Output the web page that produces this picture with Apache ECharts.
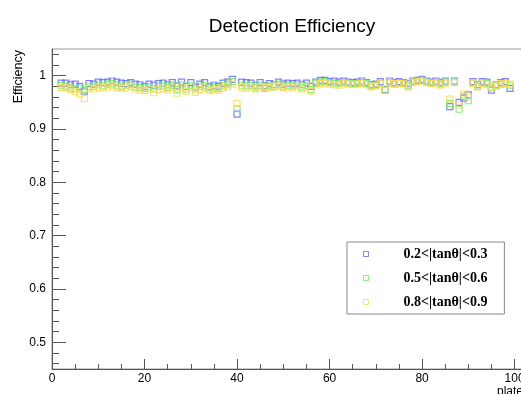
<!DOCTYPE html>
<html>
<head>
<meta charset="utf-8">
<script src="https://cdn.jsdelivr.net/npm/echarts@6/dist/echarts.min.js"></script>
<style>
  html, body { margin: 0; padding: 0; background: #fff; }
  #main { width: 521px; height: 394px; }
</style>
</head>
<body>
<div id="main"></div>
<script>
// plates 2..99
var plates = [];
for (var p = 2; p <= 99; p++) plates.push(p);

var eff02 = [
  .986, .986, .983, .984, .980, .971, .985, .984, .988, .987, .988, .990, .988, .986, .985, .987, .984, .983, .980,
  .984, .982, .985, .986, .983, .987, .981, .988, .980, .987, .979, .984, .987, .979, .982, .980, .986, .988, .993,
  .928, .988, .987, .986, .982, .987, .981, .985, .983, .988, .984, .986, .985, .986, .983, .986, .980, .988, .991,
  .991, .989, .990, .988, .990, .988, .987, .988, .990, .987, .983, .984, .989, .974, .990, .987, .989, .987, .985,
  .990, .991, .993, .990, .988, .990, .987, .990, .942, .990, .950, .958, .964, .989, .983, .989, .988, .973, .983,
  .987, .989, .976
];
var eff05 = [
  .982, .980, .977, .975, .976, .974, .979, .980, .983, .981, .984, .985, .982, .980, .982, .984, .979, .978, .976,
  .979, .975, .980, .981, .978, .982, .974, .983, .975, .982, .975, .980, .982, .975, .978, .976, .982, .984, .989,
  .938, .982, .981, .982, .978, .982, .976, .981, .979, .984, .980, .982, .981, .983, .978, .981, .974, .986, .988,
  .989, .987, .986, .985, .987, .986, .985, .985, .987, .985, .981, .982, .986, .973, .987, .984, .987, .986, .981,
  .988, .990, .991, .988, .986, .987, .984, .988, .948, .988, .937, .961, .953, .986, .980, .987, .985, .977, .981,
  .984, .986, .982
];
var eff08 = [
  .978, .977, .974, .970, .966, .957, .976, .975, .978, .977, .979, .981, .978, .976, .977, .980, .975, .973, .972,
  .975, .968, .974, .976, .973, .977, .967, .977, .971, .979, .969, .974, .977, .972, .974, .973, .977, .980, .984,
  .948, .978, .976, .979, .975, .979, .978, .977, .980, .981, .977, .979, .977, .980, .975, .979, .971, .983, .985,
  .986, .984, .983, .982, .986, .984, .983, .984, .985, .983, .979, .981, .985, .972, .986, .985, .985, .985, .979,
  .987, .989, .990, .987, .985, .986, .982, .986, .956, .987, .945, .966, .960, .985, .979, .986, .983, .979, .982,
  .985, .985, .984
];

var seriesNames = ['0.2<|tan\u03b8|<0.3', '0.5<|tan\u03b8|<0.6', '0.8<|tan\u03b8|<0.9'];
var seriesColors = ['#6464ff', '#64f064', '#ffda55'];
var seriesData = [eff02, eff05, eff08];

var yMajor = [0.5, 0.6, 0.7, 0.8, 0.9, 1.0];
var yMinor = [];
for (var i = 0; i < 30; i++) {
  var v = Math.round((0.46 + i * 0.02) * 100) / 100;
  if (Math.round(v * 100) % 10 !== 0) yMinor.push(v);
}

var chartDom = document.getElementById('main');
var myChart = echarts.init(chartDom, null, { renderer: 'canvas' });

var axisColor = '#555';
var fontSans = 'Liberation Sans, Arial, sans-serif';

var option = {
  animation: false,
  backgroundColor: '#fff',
  title: {
    text: 'Detection Efficiency',
    left: 287,
    top: 12,
    textAlign: 'center',
    textStyle: { fontFamily: fontSans, fontSize: 19, fontWeight: 'normal', color: '#000' }
  },
  grid: {
    left: 52, top: 49, right: -1, bottom: 25,
    outerBoundsMode: 'none',
    show: true, borderColor: '#999', borderWidth: 1
  },
  legend: {
    orient: 'vertical',
    left: 347,
    top: 242,
    padding: [5, 17, 5, 16],
    itemGap: 10,
    itemWidth: 5,
    itemHeight: 5,
    itemStyle: { borderWidth: 1 },
    borderColor: '#888',
    borderWidth: 1,
    backgroundColor: '#fff',
    textStyle: {
      fontFamily: 'Liberation Serif, Times New Roman, serif',
      fontWeight: 'bold', fontSize: 14, color: '#000',
      padding: [0, 0, 0, 30], lineHeight: 14
    },
    data: seriesNames
  },
  xAxis: {
    type: 'value',
    min: 0, max: 101.6, interval: 20,
    axisLine: { lineStyle: { color: axisColor } },
    axisTick: { inside: true, length: 10, lineStyle: { color: axisColor } },
    minorTick: { show: true, splitNumber: 4, length: 5, lineStyle: { color: axisColor } },
    splitLine: { show: false },
    axisLabel: {
      margin: 4, color: '#000', fontFamily: fontSans, fontSize: 12,
      hideOverlap: false,
      formatter: function (v) { return v % 20 === 0 ? String(v) : ''; }
    }
  },
  yAxis: [
    {
      type: 'value', min: 0.45, max: 1.05, position: 'left',
      axisLine: { show: true, lineStyle: { color: axisColor } },
      axisTick: { show: true, inside: true, length: 14, customValues: yMajor, lineStyle: { color: axisColor } },
      axisLabel: {
        margin: 6, color: '#000', fontFamily: fontSans, fontSize: 12, customValues: yMajor,
        formatter: function (v) { return v === 1 ? '1' : v.toFixed(1); }
      },
      splitLine: { show: false }
    },
    {
      type: 'value', min: 0.45, max: 1.05, position: 'left', offset: 0,
      axisLine: { show: false },
      axisTick: { show: true, inside: true, length: 7, customValues: yMinor, lineStyle: { color: axisColor } },
      axisLabel: { show: false },
      splitLine: { show: false }
    }
  ],
  graphic: [
    {
      type: 'text', x: 12, y: 50, rotation: Math.PI / 2,
      style: { text: 'Efficiency', font: '12.5px ' + fontSans, fill: '#000', align: 'right', verticalAlign: 'top' }
    },
    {
      type: 'text', x: 497, y: 386,
      style: { text: 'plate', font: '12px ' + fontSans, fill: '#000', align: 'left', verticalAlign: 'top' }
    }
  ],
  series: seriesData.map(function (vals, k) {
    return {
      name: seriesNames[k],
      type: 'scatter',
      symbol: 'rect',
      symbolSize: 6,
      itemStyle: { color: 'rgba(255,255,255,0)', borderColor: seriesColors[k], borderWidth: 1.2 },
      data: plates.map(function (p, j) { return [p, vals[j]]; })
    };
  })
};

myChart.setOption(option);
</script>
</body>
</html>
